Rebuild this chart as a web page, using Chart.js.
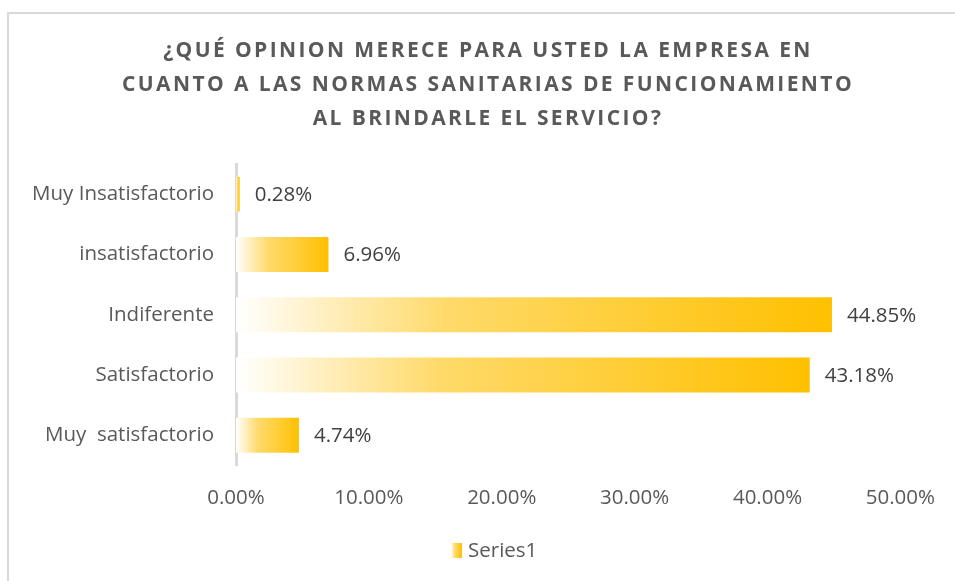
<!DOCTYPE html>
<html>
<head>
<meta charset="utf-8">
<script src="https://cdn.jsdelivr.net/npm/chart.js@4/dist/chart.umd.min.js"></script>
<style>
  html, body { margin: 0; padding: 0; background: #fff; }
  #wrap { position: relative; width: 955px; height: 581px; }
  #frame { position: absolute; left: 7px; top: 12px; right: -2px; bottom: -2px; border-top: 2px solid #d9d9d9; border-left: 2px solid #d9d9d9; }
  canvas { position: absolute; left: 0; top: 0; }
</style>
</head>
<body>
<div id="wrap">
  <div id="frame"></div>
  <canvas id="c" width="955" height="581"></canvas>
</div>
<script>
const titleLines = [
  "¿QUÉ OPINION MERECE PARA USTED LA EMPRESA EN",
  "CUANTO A LAS NORMAS SANITARIAS DE FUNCIONAMIENTO",
  "AL BRINDARLE EL SERVICIO?"
];
const categories = ["Muy Insatisfactorio", "insatisfactorio", "Indiferente", "Satisfactorio", "Muy  satisfactorio"];
const values = [0.0028, 0.0696, 0.4485, 0.4318, 0.0474];
const seriesName = "Series1";
const tickMin = 0, tickMax = 0.5, tickStep = 0.1;

const GOLD = "#FFC000";
const TEXT = "#595959";
const FONT = "'Open Sans', sans-serif";
const FS = 20.5;

function makeGradient(ctx, x0, x1) {
  const g = ctx.createLinearGradient(x0, 0, x1, 0);
  g.addColorStop(0, "rgba(255,255,255,1)");
  g.addColorStop(0.35, "#FFDA6B");
  g.addColorStop(1, GOLD);
  return g;
}

const titleDraw = {
  id: "titleDraw",
  afterDraw(chart) {
    const ctx = chart.ctx;
    ctx.save();
    ctx.font = "bold 21px " + FONT;
    ctx.fillStyle = TEXT;
    ctx.textAlign = "center";
    ctx.textBaseline = "alphabetic";
    if ("letterSpacing" in ctx) ctx.letterSpacing = "2.4px";
    const ys = [57, 91, 125];
    titleLines.forEach((t, i) => ctx.fillText(t, 488, ys[i]));
    ctx.restore();
  }
};

const legendDraw = {
  id: "legendDraw",
  afterDraw(chart) {
    const ctx = chart.ctx;
    ctx.save();
    const bx = 451, by = 543, bw = 11, bh = 15;
    ctx.fillStyle = makeGradient(ctx, bx, bx + bw);
    ctx.fillRect(bx, by, bw, bh);
    ctx.font = FS + "px " + FONT;
    ctx.fillStyle = TEXT;
    ctx.textAlign = "left";
    ctx.textBaseline = "middle";
    ctx.fillText(seriesName, 468, 551);
    ctx.restore();
  }
};

const valueLabels = {
  id: "valueLabels",
  afterDatasetsDraw(chart) {
    const ctx = chart.ctx;
    const meta = chart.getDatasetMeta(0);
    ctx.save();
    ctx.font = FS + "px " + FONT;
    ctx.fillStyle = "#404040";
    ctx.textAlign = "left";
    ctx.textBaseline = "middle";
    meta.data.forEach((bar, i) => {
      ctx.fillText((values[i] * 100).toFixed(2) + "%", bar.x + 15, bar.y + 1);
    });
    ctx.restore();
  }
};

const ctx = document.getElementById("c").getContext("2d");
new Chart(ctx, {
  type: "bar",
  data: {
    labels: categories,
    datasets: [{
      label: seriesName,
      data: values,
      backgroundColor: (context) => {
        const chart = context.chart;
        if (!chart.chartArea || context.type !== "data") return GOLD;
        const xs = chart.scales.x;
        const x0 = xs.getPixelForValue(0);
        const x1 = xs.getPixelForValue(context.parsed.x);
        if (x1 - x0 < 1) return GOLD;
        return makeGradient(chart.ctx, x0, x1);
      },
      borderWidth: 0,
      categoryPercentage: 1,
      barPercentage: 0.58
    }]
  },
  options: {
    indexAxis: "y",
    responsive: false,
    animation: false,
    layout: { padding: { left: 10, right: 47, top: 164, bottom: 51 } },
    scales: {
      x: {
        min: tickMin, max: tickMax,
        grid: { display: false, drawTicks: false },
        border: { display: false },
        ticks: {
          stepSize: tickStep,
          color: TEXT,
          font: { family: FONT, size: FS },
          padding: 20,
          callback: (v) => (v * 100).toFixed(2) + "%"
        }
      },
      y: {
        grid: { display: false, drawTicks: false },
        border: { display: true, color: "#d9d9d9", width: 3 },
        ticks: {
          color: TEXT,
          font: { family: FONT, size: FS },
          padding: 22
        },
        afterFit: (s) => { s.width = 226; }
      }
    },
    plugins: {
      title: { display: false },
      legend: { display: false },
      tooltip: { enabled: false }
    }
  },
  plugins: [valueLabels, titleDraw, legendDraw]
});
</script>
</body>
</html>
